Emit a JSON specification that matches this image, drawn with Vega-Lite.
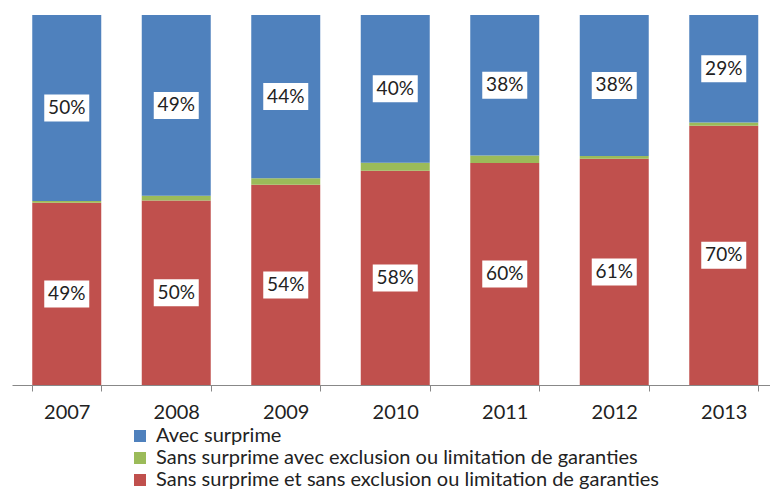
{
  "$schema": "https://vega.github.io/schema/vega-lite/v6.json",
  "autosize": "none",
  "width": 758,
  "height": 370,
  "padding": {"left": 12, "top": 15, "right": 0, "bottom": 108},
  "background": "white",
  "config": {"view": {"stroke": null}, "font": "Lato"},
  "data": {
    "values": [
      {"year": "2007", "series": "Sans surprime et sans exclusion ou limitation de garanties", "ord": 1, "value": 49, "label": "49%"},
      {"year": "2007", "series": "Sans surprime avec exclusion ou limitation de garanties", "ord": 2, "value": 0.5, "label": ""},
      {"year": "2007", "series": "Avec surprime", "ord": 3, "value": 50, "label": "50%"},
      {"year": "2008", "series": "Sans surprime et sans exclusion ou limitation de garanties", "ord": 1, "value": 50, "label": "50%"},
      {"year": "2008", "series": "Sans surprime avec exclusion ou limitation de garanties", "ord": 2, "value": 1.3, "label": ""},
      {"year": "2008", "series": "Avec surprime", "ord": 3, "value": 49, "label": "49%"},
      {"year": "2009", "series": "Sans surprime et sans exclusion ou limitation de garanties", "ord": 1, "value": 54, "label": "54%"},
      {"year": "2009", "series": "Sans surprime avec exclusion ou limitation de garanties", "ord": 2, "value": 1.8, "label": ""},
      {"year": "2009", "series": "Avec surprime", "ord": 3, "value": 44, "label": "44%"},
      {"year": "2010", "series": "Sans surprime et sans exclusion ou limitation de garanties", "ord": 1, "value": 58, "label": "58%"},
      {"year": "2010", "series": "Sans surprime avec exclusion ou limitation de garanties", "ord": 2, "value": 2.2, "label": ""},
      {"year": "2010", "series": "Avec surprime", "ord": 3, "value": 40, "label": "40%"},
      {"year": "2011", "series": "Sans surprime et sans exclusion ou limitation de garanties", "ord": 1, "value": 60, "label": "60%"},
      {"year": "2011", "series": "Sans surprime avec exclusion ou limitation de garanties", "ord": 2, "value": 2, "label": ""},
      {"year": "2011", "series": "Avec surprime", "ord": 3, "value": 38, "label": "38%"},
      {"year": "2012", "series": "Sans surprime et sans exclusion ou limitation de garanties", "ord": 1, "value": 61, "label": "61%"},
      {"year": "2012", "series": "Sans surprime avec exclusion ou limitation de garanties", "ord": 2, "value": 0.8, "label": ""},
      {"year": "2012", "series": "Avec surprime", "ord": 3, "value": 38, "label": "38%"},
      {"year": "2013", "series": "Sans surprime et sans exclusion ou limitation de garanties", "ord": 1, "value": 70, "label": "70%"},
      {"year": "2013", "series": "Sans surprime avec exclusion ou limitation de garanties", "ord": 2, "value": 0.9, "label": ""},
      {"year": "2013", "series": "Avec surprime", "ord": 3, "value": 29, "label": "29%"}
    ]
  },
  "transform": [
    {"stack": "value", "groupby": ["year"], "sort": [{"field": "ord", "order": "ascending"}], "offset": "normalize", "as": ["y0", "y1"]},
    {"calculate": "(datum.y0 + datum.y1) / 2", "as": "ymid"}
  ],
  "encoding": {
    "x": {
      "field": "year", "type": "nominal", "title": null,
      "scale": {"range": [0, 766.5], "paddingInner": 0.37, "paddingOuter": 0.185},
      "axis": {
        "labelAngle": 0, "labelFontSize": 20, "labelColor": "#222222", "labelPadding": 11,
        "domainColor": "#888888", "tickColor": "#888888", "tickSize": 6, "tickBand": "extent",
        "labelFont": "Lato"
      }
    }
  },
  "layer": [
    {
      "mark": {"type": "bar"},
      "encoding": {
        "y": {"field": "y0", "type": "quantitative", "scale": {"domain": [0, 1]}, "axis": null},
        "y2": {"field": "y1"},
        "color": {
          "field": "series", "type": "nominal",
          "scale": {
            "domain": ["Avec surprime", "Sans surprime avec exclusion ou limitation de garanties", "Sans surprime et sans exclusion ou limitation de garanties"],
            "range": ["#4F81BD", "#9BBB59", "#C0504D"]
          },
          "legend": {
            "title": null, "orient": "none", "legendX": 118, "legendY": 411,
            "direction": "vertical", "symbolType": "square", "symbolSize": 144,
            "labelFontSize": 20, "labelColor": "#222222", "rowPadding": 2, "labelOffset": 6,
            "labelLimit": 700, "padding": 0, "labelFont": "Lato"
          }
        }
      }
    },
    {
      "transform": [{"filter": "datum.label != ''"}],
      "mark": {"type": "point", "shape": "M-1,-0.6H1V0.6H-1Z", "filled": true, "color": "white", "opacity": 1, "size": 2025},
      "encoding": {
        "y": {"field": "ymid", "type": "quantitative"}
      }
    },
    {
      "transform": [{"filter": "datum.label != ''"}],
      "mark": {"type": "text", "fontSize": 19, "color": "#222222", "font": "Lato"},
      "encoding": {
        "y": {"field": "ymid", "type": "quantitative"},
        "text": {"field": "label"}
      }
    }
  ]
}
